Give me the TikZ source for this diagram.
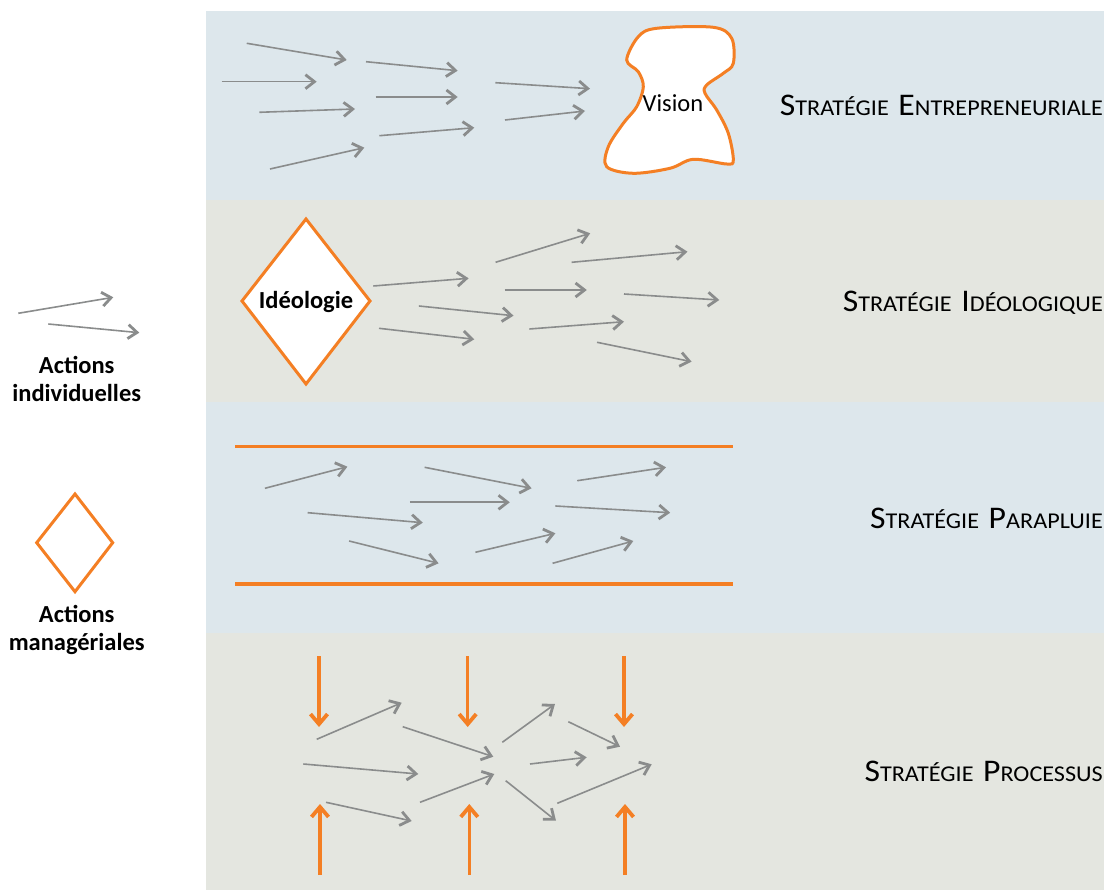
\documentclass[tikz,border=0pt]{standalone}
\usepackage{fontspec}
\setmainfont{Carlito}
\usetikzlibrary{arrows.meta}
\definecolor{bandblue}{HTML}{DDE7EC}
\definecolor{bandgray}{HTML}{E4E6E0}
\definecolor{agray}{HTML}{8A8C8C}
\definecolor{aorange}{HTML}{F47F24}
\newcommand\bigsc[1]{{\fontsize{31.5}{34}\selectfont #1}}
\newcommand\smsc[1]{{\fontsize{22.6}{26}\selectfont #1}}
\newcommand\ttl[1]{\scalebox{1.07}[1]{#1}}
\newcommand\wsp{\hspace{9pt}}
\newcommand\garr[3]{\coordinate (#1a) at (#2); \coordinate (#1b) at (#3); \draw[act] (#1a) -- (#1b);}
\newcommand\oarr[3]{\coordinate (#1a) at (#2); \coordinate (#1b) at (#3); \draw[mgr] (#1a) -- (#1b);}
\begin{document}
\begin{tikzpicture}[x=1pt,y=-1pt,
  act/.style={draw=agray, line width=1.6pt, -{Straight Barb[length=9pt,width=14pt,line width=2.8pt]}},
  mgr/.style={draw=aorange, line width=3.5pt, -{Straight Barb[length=10pt,width=17pt,line width=3.8pt]}},
  lbl/.style={font=\fontsize{24.5}{28}\selectfont\bfseries, align=center, inner sep=0pt},
  shapelbl/.style={font=\fontsize{24.5}{28}\selectfont, inner sep=0pt},
  title/.style={anchor=base east, inner sep=0pt},
  mshape/.style={draw=aorange, line width=3pt, line join=miter}]
\useasboundingbox (0,0) rectangle (1104,890);
% bands
\fill[bandblue] (206,11) rectangle (1104,200);
\fill[bandgray] (206,200) rectangle (1104,402);
\fill[bandblue] (206,402) rectangle (1104,633);
\fill[bandgray] (206,633) rectangle (1104,890);

% ---- Band 1: entrepreneuriale
\garr{e1}{246.7,43.3}{346.7,60}
\garr{e2}{221.7,81.7}{316.7,81.7}
\garr{e3}{259.3,112.3}{355,109}
\garr{e4}{270,169}{364.3,147.7}
\garr{e5}{366,61.7}{457.7,70.7}
\garr{e6}{375.7,97}{457.7,97}
\garr{e7}{379.3,135.7}{474.3,127.7}
\garr{e8}{495.3,82.7}{590,88.7}
\garr{e9}{505,120}{585,111}
\draw[mshape, fill=white] plot[smooth cycle, tension=0.55] coordinates {
 (626.7,60) (638.3,36.7) (656.7,28.3) (713.3,27.3) (731.7,38.3) (733.3,63.3)
 (723.3,73.3) (706.7,85) (705,93.3) (716.7,110) (728.3,133.3) (733.3,160)
 (726.7,164) (693.3,159.3) (670,168.3) (633.3,173.3) (606.7,166.7) (608.3,146.7)
 (623.3,123.3) (636.7,106.7) (643.3,86.7) (638.3,71.7)};
\node[shapelbl] (vision) at (673,103) {Vision};
\node[title] (t1) at (1103,116) {\ttl{\bigsc{S}\smsc{TRATÉGIE}\wsp\bigsc{E}\smsc{NTREPRENEURIALE}}};

% ---- Band 2: ideologique
\draw[mshape, fill=white] (306,219) -- (370,301) -- (306,384) -- (242,301) -- cycle;
\node[lbl] (ideo) at (306,302) {Idéologie};
\garr{i1}{373.3,286}{468.6,278.3}
\garr{i2}{418.9,306}{513.5,315.7}
\garr{i3}{379,328.3}{474.3,339.3}
\garr{i4}{495.6,262.3}{590.2,233.3}
\garr{i5}{504.7,290}{586.8,290}
\garr{i6}{529.4,329}{624,321.7}
\garr{i7}{571.6,262.3}{687.5,251.7}
\garr{i8}{624,294}{719.3,300}
\garr{i9}{597,342.3}{691.6,361.7}
\node[title] (t2) at (1103,312) {\ttl{\bigsc{S}\smsc{TRATÉGIE}\wsp\bigsc{I}\smsc{DÉOLOGIQUE}}};

% ---- Band 3: parapluie
\coordinate (u1) at (235,446.5); \coordinate (u2) at (733,446.5);
\coordinate (d1) at (235,584); \coordinate (d2) at (733,584);
\draw[aorange, line width=3.5pt] (u1) -- (u2);
\draw[aorange, line width=3.5pt] (d1) -- (d2);
\garr{p1}{264.9,488.3}{347.4,466.7}
\garr{p2}{307.7,512.7}{422.8,522.7}
\garr{p3}{349.1,541}{438.6,563.3}
\garr{p4}{424.6,467.3}{531.6,488.3}
\garr{p5}{409.8,502.3}{509.8,502.3}
\garr{p6}{475.4,552.3}{555.4,533.3}
\garr{p7}{577.2,480.7}{666,467.3}
\garr{p8}{555.4,506}{670.2,512.7}
\garr{p9}{552.6,563.3}{633.3,541}
\node[title] (t3) at (1103,529) {\ttl{\bigsc{S}\smsc{TRATÉGIE}\wsp\bigsc{P}\smsc{ARAPLUIE}}};

% ---- Band 4: processus
\oarr{m1}{319,656}{319,727}
\oarr{m2}{467.7,656}{467.7,727}
\oarr{m3}{624,656}{624,727}
\oarr{m4}{320,875}{320,804}
\oarr{m5}{469.3,875}{469.3,804}
\oarr{m6}{625,875}{625,804}
\garr{r1}{316.7,739.3}{401.7,702.7}
\garr{r2}{303.3,764}{418.3,774}
\garr{r3}{326,802.3}{411.7,821}
\garr{r4}{402.7,726.7}{493.3,756.7}
\garr{r5}{420,802.3}{494.3,774}
\garr{r6}{502.3,742.3}{555,704}
\garr{r7}{530,764}{586.7,757.3}
\garr{r8}{505.7,780.7}{556,820.7}
\garr{r9}{568.3,721.7}{620,746.7}
\garr{r10}{557.3,803.3}{651.7,764.3}
\node[title] (t4) at (1103,781) {\ttl{\bigsc{S}\smsc{TRATÉGIE}\wsp\bigsc{P}\smsc{ROCESSUS}}};

% ---- Legend
\garr{l1}{18.3,313.3}{113.3,297.3}
\garr{l2}{48.3,324}{139.3,332.7}
\node[lbl] (indiv) at (76.7,379) {Actions\\individuelles};
\draw[mshape] (75,494) -- (112.7,542.7) -- (75,591.7) -- (36.7,542.7) -- cycle;
\coordinate (mgrdia) at (75,542.7);
\node[lbl] (manag) at (76.7,630) {Actions\\managériales};
\end{tikzpicture}
\end{document}
